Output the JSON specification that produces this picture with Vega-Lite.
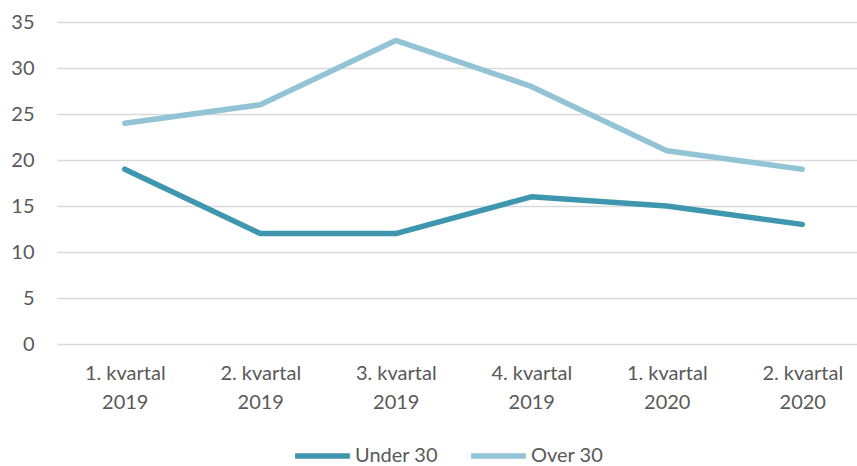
{
  "$schema": "https://vega.github.io/schema/vega-lite/v6.json",
  "autosize": "none",
  "width": 813,
  "height": 322,
  "padding": {"left": 57, "top": 22, "right": 0, "bottom": 122},
  "background": "white",
  "config": {"view": {"stroke": null}, "font": "Lato"},
  "data": {"values": [
    {"q": "1. kvartal 2019", "group": "Under 30", "value": 19},
    {"q": "2. kvartal 2019", "group": "Under 30", "value": 12},
    {"q": "3. kvartal 2019", "group": "Under 30", "value": 12},
    {"q": "4. kvartal 2019", "group": "Under 30", "value": 16},
    {"q": "1. kvartal 2020", "group": "Under 30", "value": 15},
    {"q": "2. kvartal 2020", "group": "Under 30", "value": 13},
    {"q": "1. kvartal 2019", "group": "Over 30", "value": 24},
    {"q": "2. kvartal 2019", "group": "Over 30", "value": 26},
    {"q": "3. kvartal 2019", "group": "Over 30", "value": 33},
    {"q": "4. kvartal 2019", "group": "Over 30", "value": 28},
    {"q": "1. kvartal 2020", "group": "Over 30", "value": 21},
    {"q": "2. kvartal 2020", "group": "Over 30", "value": 19}
  ]},
  "mark": {"type": "line", "strokeWidth": 5.5, "strokeCap": "round", "strokeJoin": "round"},
  "encoding": {
    "x": {
      "field": "q", "type": "ordinal", "sort": null,
      "scale": {"type": "point", "padding": 0.5},
      "axis": {
        "title": null, "domain": false, "ticks": false, "grid": false,
        "labelAngle": 0, "labelFontSize": 20, "labelColor": "#595959",
        "labelLineHeight": 29, "labelPadding": 19,
        "labelExpr": "[substring(datum.label,0,10), substring(datum.label,11)]"
      }
    },
    "y": {
      "field": "value", "type": "quantitative",
      "scale": {"domain": [0, 35], "nice": false},
      "axis": {
        "title": null, "domain": false, "ticks": false,
        "values": [0, 5, 10, 15, 20, 25, 30, 35],
        "gridColor": "#D9D9D9", "gridWidth": 1.5,
        "labelFontSize": 20, "labelColor": "#595959", "labelPadding": 23
      }
    },
    "color": {
      "field": "group", "type": "nominal",
      "scale": {"domain": ["Under 30", "Over 30"], "range": ["#3E97AE", "#92C4D6"]},
      "legend": {
        "title": null, "orient": "none", "direction": "horizontal",
        "legendX": 235, "legendY": 422, "clipHeight": 24,
        "symbolType": "stroke", "symbolSize": 3000, "symbolStrokeWidth": 5.5,
        "labelFontSize": 20, "labelColor": "#595959", "labelOffset": 2,
        "columnPadding": 30
      }
    }
  }
}
